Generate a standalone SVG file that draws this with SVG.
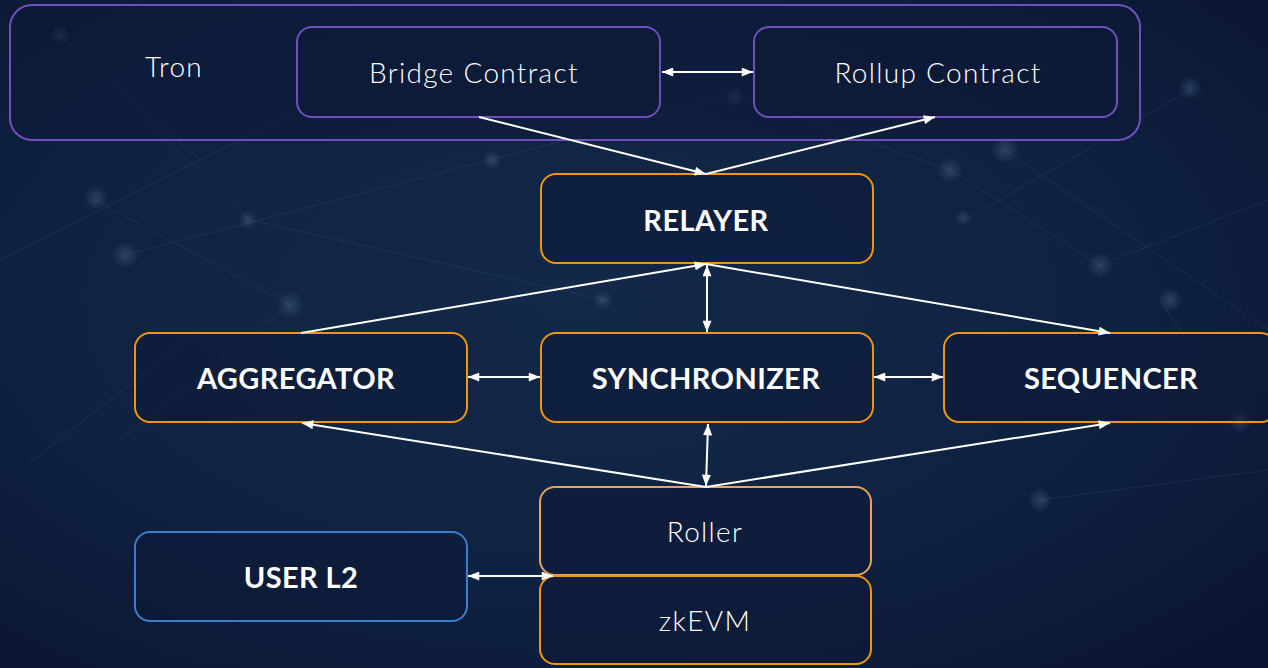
<svg xmlns="http://www.w3.org/2000/svg" width="1268" height="668" viewBox="0 0 1268 668">
<defs>
<radialGradient id="bg" cx="0.45" cy="0.45" r="0.75">
<stop offset="0" stop-color="#13294a"/>
<stop offset="0.6" stop-color="#0f2140"/>
<stop offset="1" stop-color="#0a1430"/>
</radialGradient>
<radialGradient id="dot">
<stop offset="0" stop-color="#4a6384" stop-opacity="0.5"/>
<stop offset="1" stop-color="#4a6384" stop-opacity="0"/>
</radialGradient>
<marker id="ah" viewBox="0 0 10 8" refX="10" refY="4" markerWidth="12" markerHeight="9" markerUnits="userSpaceOnUse" orient="auto-start-reverse">
<path d="M0,0 L10,4 L0,8 Z" fill="#ffffff"/>
</marker>
<style>
.box{fill:#0c1a36;fill-opacity:0.55;stroke-width:2}
.purple{stroke:#6f4fbb}
.orange{stroke:#f0960e}
.lorange{stroke:#e6a45c}
.blue{stroke:#3b7ecb}
.light{font-family:Lato,"Open Sans",sans-serif;font-weight:300;font-size:28px;letter-spacing:1.3px;fill:#ffffff;text-anchor:middle;dominant-baseline:central}
.bold{font-family:Lato,"Open Sans",sans-serif;font-weight:700;font-size:29px;letter-spacing:0.4px;fill:#ffffff;text-anchor:middle;dominant-baseline:central}
.conn line{stroke:#ffffff;stroke-width:2;fill:none}
.net line{stroke:#3d5678;stroke-width:1;stroke-opacity:0.3}
</style>
</defs>
<rect width="1268" height="668" fill="url(#bg)"/>
<g class="net">
<line x1="60" y1="35" x2="250" y2="220"/>
<line x1="95" y1="200" x2="290" y2="305"/>
<line x1="0" y1="260" x2="300" y2="110"/>
<line x1="125" y1="255" x2="490" y2="160"/>
<line x1="250" y1="220" x2="605" y2="300"/>
<line x1="490" y1="160" x2="735" y2="95"/>
<line x1="290" y1="305" x2="120" y2="440"/>
<line x1="735" y1="95" x2="950" y2="170"/>
<line x1="950" y1="170" x2="1100" y2="265"/>
<line x1="965" y1="220" x2="1190" y2="90"/>
<line x1="1100" y1="265" x2="1268" y2="200"/>
<line x1="1005" y1="150" x2="1268" y2="330"/>
<line x1="1160" y1="300" x2="1240" y2="420"/>
<line x1="20" y1="470" x2="200" y2="330"/>
<line x1="1040" y1="500" x2="1268" y2="470"/>
<line x1="200" y1="160" x2="60" y2="35"/>
</g>
<g>
<circle cx="60" cy="35" r="10" fill="url(#dot)"/>
<circle cx="96" cy="198" r="12" fill="url(#dot)"/>
<circle cx="125" cy="255" r="14" fill="url(#dot)"/>
<circle cx="248" cy="220" r="10" fill="url(#dot)"/>
<circle cx="290" cy="305" r="14" fill="url(#dot)"/>
<circle cx="492" cy="160" r="10" fill="url(#dot)"/>
<circle cx="735" cy="97" r="10" fill="url(#dot)"/>
<circle cx="950" cy="170" r="13" fill="url(#dot)"/>
<circle cx="1005" cy="150" r="14" fill="url(#dot)"/>
<circle cx="1100" cy="265" r="13" fill="url(#dot)"/>
<circle cx="1190" cy="88" r="12" fill="url(#dot)"/>
<circle cx="1170" cy="300" r="12" fill="url(#dot)"/>
<circle cx="1240" cy="420" r="12" fill="url(#dot)"/>
<circle cx="1040" cy="500" r="12" fill="url(#dot)"/>
<circle cx="603" cy="300" r="10" fill="url(#dot)"/>
<circle cx="963" cy="218" r="8" fill="url(#dot)"/>
</g>
<g id="tron">
<rect class="box purple" x="10" y="5" width="1130" height="135" rx="22"/>
<text class="light" x="174" y="66">Tron</text>
</g>
<g id="bridge-contract">
<rect class="box purple" x="297" y="27" width="363" height="90" rx="15"/>
<text class="light" x="474" y="72">Bridge Contract</text>
</g>
<g id="rollup-contract">
<rect class="box purple" x="754" y="27" width="363" height="90" rx="15"/>
<text class="light" x="938" y="72">Rollup Contract</text>
</g>
<g id="relayer">
<rect class="box orange" x="541" y="174" width="332" height="89" rx="15"/>
<text class="bold" x="706" y="219">RELAYER</text>
</g>
<g id="aggregator">
<rect class="box orange" x="135" y="333" width="332" height="89" rx="15"/>
<text class="bold" x="296" y="377">AGGREGATOR</text>
</g>
<g id="synchronizer">
<rect class="box orange" x="541" y="333" width="332" height="89" rx="15"/>
<text class="bold" x="706" y="377">SYNCHRONIZER</text>
</g>
<g id="sequencer">
<rect class="box orange" x="944" y="333" width="332" height="89" rx="15"/>
<text class="bold" x="1111" y="377">SEQUENCER</text>
</g>
<g id="roller">
<rect class="box lorange" x="540" y="487" width="331" height="88" rx="15"/>
<text class="light" x="705" y="531">Roller</text>
</g>
<g id="zkevm">
<rect class="box orange" x="540" y="576" width="331" height="88" rx="15"/>
<text class="light" x="705" y="620">zkEVM</text>
</g>
<g id="user-l2">
<rect class="box blue" x="135" y="532" width="332" height="89" rx="15"/>
<text class="bold" x="301" y="576">USER L2</text>
</g>
<g class="conn" id="connectors">
<line x1="662" y1="72" x2="753" y2="72" marker-start="url(#ah)" marker-end="url(#ah)"/>
<line x1="479" y1="117" x2="706" y2="174" marker-end="url(#ah)"/>
<line x1="706" y1="174" x2="935" y2="117" marker-end="url(#ah)"/>
<line x1="301" y1="333" x2="706" y2="264" marker-end="url(#ah)"/>
<line x1="706" y1="264" x2="1110" y2="333" marker-end="url(#ah)"/>
<line x1="707" y1="265" x2="707" y2="332" marker-start="url(#ah)" marker-end="url(#ah)"/>
<line x1="468" y1="377" x2="540" y2="377" marker-start="url(#ah)" marker-end="url(#ah)"/>
<line x1="874" y1="377" x2="943" y2="377" marker-start="url(#ah)" marker-end="url(#ah)"/>
<line x1="706" y1="487" x2="302" y2="423" marker-end="url(#ah)"/>
<line x1="706" y1="487" x2="1110" y2="423" marker-end="url(#ah)"/>
<line x1="706" y1="486" x2="708" y2="424" marker-start="url(#ah)" marker-end="url(#ah)"/>
<line x1="468" y1="576" x2="553" y2="576" marker-start="url(#ah)" marker-end="url(#ah)"/>
</g>
</svg>
